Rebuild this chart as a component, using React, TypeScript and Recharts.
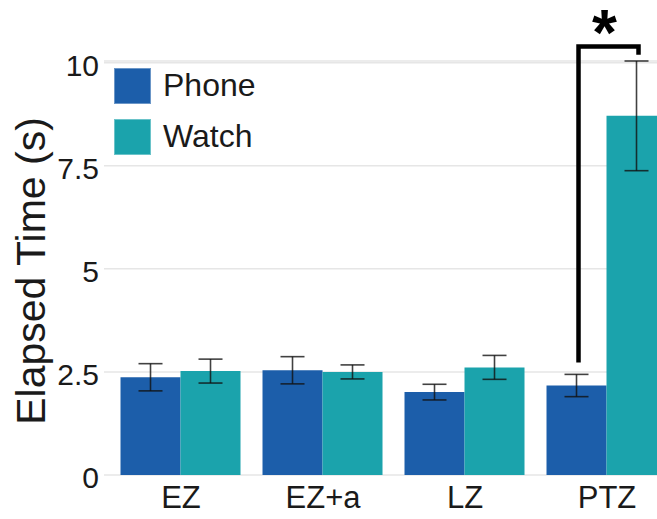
import React from 'react';
import {
  Bar,
  BarChart,
  CartesianGrid,
  ErrorBar,
  LabelList,
  Legend,
  XAxis,
  YAxis,
} from 'recharts';

// Mean elapsed time per zoom technique, with error bar half-lengths.
const categories = ['EZ', 'EZ+a', 'LZ', 'PTZ'];
const phoneMeans = [2.37, 2.54, 2.01, 2.17];
const phoneErrors = [0.33, 0.33, 0.19, 0.27];
const watchMeans = [2.52, 2.5, 2.61, 8.71];
const watchErrors = [0.29, 0.17, 0.29, 1.33];
const yTicks = [0, 2.5, 5, 7.5, 10];

// Significance bracket (values in seconds).
const sigCategory = 'PTZ';
const sigLeftLow = 2.73;
const sigTop = 10.39;
const sigRightLow = 10.19;

const PHONE = '#1c5eaa';
const WATCH = '#1ba3ac';
const GRID = '#e6e6e6';
const INK = '#1a1a1a';
const FONT = '"Liberation Sans", Arial, sans-serif';

const data = categories.map((name, i) => ({
  name,
  phone: phoneMeans[i],
  phoneErr: phoneErrors[i],
  watch: watchMeans[i],
  watchErr: watchErrors[i],
}));

function YTick(props: any) {
  const { x, y, payload } = props;
  return (
    <text x={x} y={y} dy={13} textAnchor="end" fontSize={30} fill={INK} fontFamily={FONT}>
      {payload.value}
    </text>
  );
}

function XTick(props: any) {
  const { x, y, payload } = props;
  return (
    <text x={x} y={y} dy={33} textAnchor="middle" fontSize={31} fill={INK} fontFamily={FONT}>
      {payload.value}
    </text>
  );
}

const renderYLabel = () => (
  <text
    transform="translate(45, 271) rotate(-90)"
    textAnchor="middle"
    fontSize={41}
    fill={INK}
    fontFamily={FONT}
  >
    Elapsed Time (s)
  </text>
);

// Bracket is drawn off the phone bar of the significant category; the bar's
// own geometry gives the pixels-per-second used for the bracket heights.
const renderBracket = (props: any) => {
  const { x, y, width, height, index } = props;
  if (categories[index] !== sigCategory) return null;
  const value = phoneMeans[index];
  const base = y + height;
  const perUnit = height / value;
  const toY = (v: number) => base - v * perUnit;
  const x1 = x + width / 2 + 2;
  const x2 = x1 + width;
  const top = toY(sigTop);
  return (
    <g>
      <path
        d={`M${x1},${toY(sigLeftLow)} L${x1},${top} L${x2},${top} L${x2},${toY(sigRightLow)}`}
        fill="none"
        stroke="#000"
        strokeWidth={4.5}
      />
      <text
        x={(x1 + x2) / 2 - 4}
        y={top + 8}
        textAnchor="middle"
        fontSize={64}
        fontWeight="bold"
        fill="#000"
        fontFamily={FONT}
      >
        *
      </text>
    </g>
  );
};

const renderLegend = (props: any) => {
  const { payload = [] } = props;
  return (
    <div>
      {payload.map((entry: any) => (
        <div key={entry.value} style={{ display: 'flex', alignItems: 'center', height: 51 }}>
          <span
            style={{
              display: 'inline-block',
              width: 37,
              height: 36,
              boxSizing: 'border-box',
              background: entry.color,
              border: '1px solid rgba(255,255,255,0.35)',
            }}
          />
          <span style={{ marginLeft: 12, fontSize: 32, color: INK, fontFamily: FONT }}>
            {entry.value}
          </span>
        </div>
      ))}
    </div>
  );
};

export default function App() {
  return (
    <div
      style={{
        position: 'fixed',
        left: 0,
        top: 0,
        width: 657,
        height: 519,
        overflow: 'hidden',
        background: '#fff',
      }}
    >
      <BarChart
        width={680}
        height={519}
        data={data}
        margin={{ top: 61, right: 2, bottom: 0, left: 0 }}
        barCategoryGap="7.4%"
        barGap={0}
      >
        <CartesianGrid vertical={false} stroke={GRID} strokeWidth={1.5} />
        <XAxis
          dataKey="name"
          height={44}
          axisLine={false}
          tickLine={false}
          tickSize={0}
          tickMargin={0}
          interval={0}
          padding={{ left: 6, right: 0 }}
          tick={<XTick />}
        />
        <YAxis
          domain={[0, 10]}
          ticks={yTicks}
          width={104}
          axisLine={false}
          tickLine={false}
          tickSize={0}
          tickMargin={5}
          tick={<YTick />}
          label={renderYLabel}
        />
        <Legend
          layout="vertical"
          align="center"
          verticalAlign="middle"
          wrapperStyle={{ left: 114, top: 60, width: 'auto' }}
          content={renderLegend}
        />
        <Bar dataKey="phone" name="Phone" fill={PHONE} isAnimationActive={false}>
          <ErrorBar
            dataKey="phoneErr"
            width={12}
            stroke="#111"
            strokeOpacity={0.8}
            strokeWidth={1.6}
            isAnimationActive={false}
          />
          <LabelList dataKey="phone" content={renderBracket} />
        </Bar>
        <Bar dataKey="watch" name="Watch" fill={WATCH} isAnimationActive={false}>
          <ErrorBar
            dataKey="watchErr"
            width={12}
            stroke="#111"
            strokeOpacity={0.8}
            strokeWidth={1.6}
            isAnimationActive={false}
          />
        </Bar>
      </BarChart>
    </div>
  );
}
